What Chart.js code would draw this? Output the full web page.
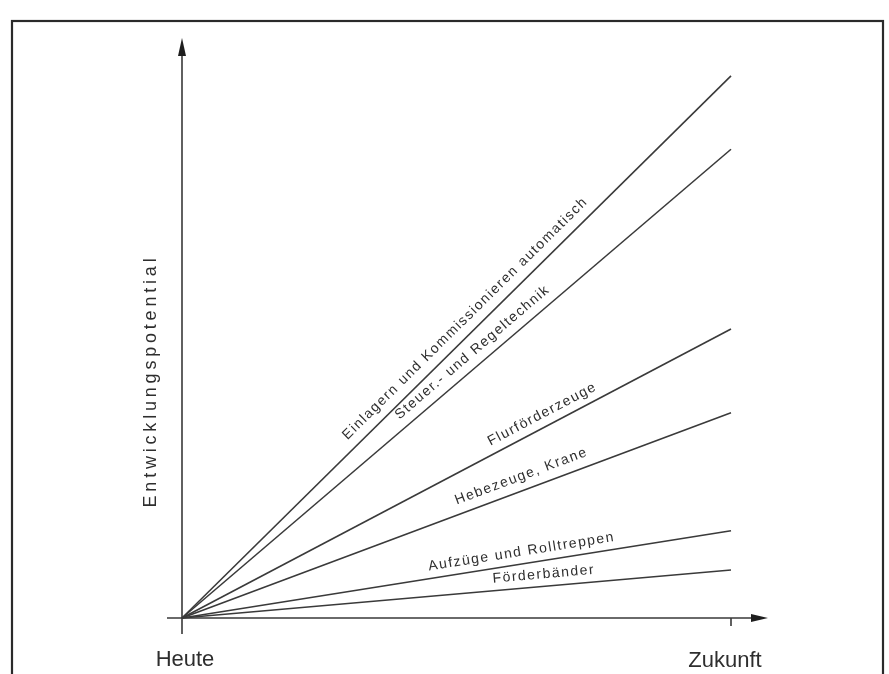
<!DOCTYPE html>
<html>
<head>
<meta charset="utf-8">
<script src="https://cdn.jsdelivr.net/npm/chart.js@4"></script>
<style>
  html, body { margin: 0; padding: 0; background: #fff; }
  #wrap { width: 889px; height: 674px; }
</style>
</head>
<body>
<div id="wrap"><canvas id="grafico" width="889" height="674"></canvas></div>
<script>
// Zeitachse: Heute -> Zukunft
const zeitpunkte = [0, 1];
const zeitLabels = ["Heute", "Zukunft"];

// Bereiche und ihr Entwicklungspotential in der Zukunft (Heute = 0)
const bereiche = [
  "Einlagern und Kommissionieren automatisch",
  "Steuer.- und Regeltechnik",
  "Flurförderzeuge",
  "Hebezeuge, Krane",
  "Aufzüge und Rolltreppen",
  "Förderbänder"
];
const potentialHeute = [0, 0, 0, 0, 0, 0];
const potentialZukunft = [93.8, 81.1, 50.0, 35.5, 15.1, 8.3];

const yTitel = "Entwicklungspotential";

// Beschriftung entlang der Linie: Anteil der Länge, Abstand über der Linie
const beschriftungT = [0.534, 0.545, 0.667, 0.627, 0.622, 0.661];
const beschriftungAbstand = [14, 13.5, 12.5, 14, 12, 12];

const farbe = "#3a3a3a";

const datasets = bereiche.map((name, i) => ({
  label: name,
  data: zeitpunkte.map((x, j) => ({ x: x, y: j === 0 ? potentialHeute[i] : potentialZukunft[i] })),
  borderColor: farbe,
  borderWidth: 1.6,
  pointRadius: 0,
  tension: 0,
  clip: false
}));

const achsenPlugin = {
  id: "achsen",
  afterDatasetsDraw(chart) {
    const ctx = chart.ctx;
    const xs = chart.scales.x;
    const ys = chart.scales.y;
    const x0 = xs.getPixelForValue(0);
    const x1 = xs.getPixelForValue(1);
    const y0 = ys.getPixelForValue(0);
    ctx.save();

    // Rahmen
    ctx.strokeStyle = "#2a2a2a";
    ctx.lineWidth = 2.2;
    ctx.strokeRect(12, 21, 871, 670);

    // Achsen
    ctx.strokeStyle = farbe;
    ctx.lineWidth = 1.6;
    ctx.beginPath();
    ctx.moveTo(x0, y0 + 16);
    ctx.lineTo(x0, 50);
    ctx.moveTo(x0 - 15, y0);
    ctx.lineTo(760, y0);
    // Markierung Zukunft
    ctx.moveTo(x1, y0);
    ctx.lineTo(x1, y0 + 8);
    ctx.stroke();

    // Pfeilspitzen
    ctx.fillStyle = "#1e1e1e";
    ctx.beginPath();
    ctx.moveTo(x0, 38);
    ctx.lineTo(x0 - 4, 56);
    ctx.lineTo(x0 + 4, 56);
    ctx.closePath();
    ctx.fill();
    ctx.beginPath();
    ctx.moveTo(768, y0);
    ctx.lineTo(751, y0 - 4);
    ctx.lineTo(751, y0 + 4);
    ctx.closePath();
    ctx.fill();

    // Achsenbeschriftung
    ctx.fillStyle = "#2e2e2e";
    ctx.font = "22px 'Liberation Sans', Arial, sans-serif";
    ctx.textAlign = "center";
    ctx.textBaseline = "alphabetic";
    ctx.fillText(zeitLabels[0], x0 + 3, 666);
    ctx.fillText(zeitLabels[1], x1 - 6, 667);

    ctx.save();
    ctx.translate(156, 381);
    ctx.rotate(-Math.PI / 2);
    ctx.font = "18px 'Liberation Sans', Arial, sans-serif";
    ctx.letterSpacing = "3.8px";
    ctx.textBaseline = "alphabetic";
    ctx.fillText(yTitel, 0, 0);
    ctx.restore();

    // Linienbeschriftungen
    ctx.font = "14px 'Liberation Sans', Arial, sans-serif";
    ctx.letterSpacing = "1.5px";
    ctx.textBaseline = "middle";
    bereiche.forEach((name, i) => {
      const ax = xs.getPixelForValue(0), ay = ys.getPixelForValue(potentialHeute[i]);
      const bx = xs.getPixelForValue(1), by = ys.getPixelForValue(potentialZukunft[i]);
      const winkel = Math.atan2(by - ay, bx - ax);
      const t = beschriftungT[i];
      const px = ax + (bx - ax) * t;
      const py = ay + (by - ay) * t;
      ctx.save();
      ctx.translate(px, py);
      ctx.rotate(winkel);
      ctx.fillText(name, 0, -beschriftungAbstand[i]);
      ctx.restore();
    });
    ctx.restore();
  }
};

new Chart(document.getElementById("grafico"), {
  type: "line",
  data: { datasets: datasets },
  options: {
    responsive: false,
    animation: false,
    layout: { padding: { left: 182, right: 158, top: 40, bottom: 56 } },
    plugins: { legend: { display: false }, tooltip: { enabled: false } },
    scales: {
      x: { type: "linear", min: 0, max: 1, display: false },
      y: { type: "linear", min: 0, max: 100, display: false }
    }
  },
  plugins: [achsenPlugin]
});
</script>
</body>
</html>
